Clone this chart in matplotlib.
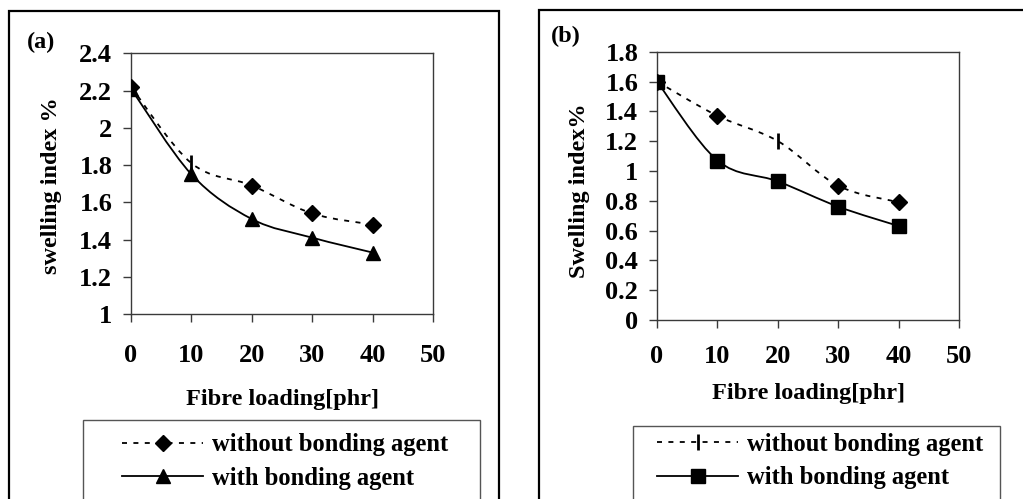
import numpy as np
import matplotlib
matplotlib.use("Agg")
import matplotlib.pyplot as plt
from matplotlib.path import Path
from matplotlib.patches import PathPatch, Rectangle
from matplotlib.lines import Line2D
from matplotlib.ticker import FuncFormatter, MultipleLocator

# ---- data -------------------------------------------------------------
fibre_loading = [0, 10, 20, 30, 40]

a_without = [2.22, 1.81, 1.69, 1.54, 1.48]
a_with = [2.21, 1.75, 1.51, 1.41, 1.33]

b_without = [1.60, 1.37, 1.20, 0.90, 0.79]
b_with = [1.60, 1.07, 0.93, 0.76, 0.63]

series_labels = ["without bonding agent", "with bonding agent"]
x_label = "Fibre loading[phr]"
a_ylabel = "swelling index %"
b_ylabel = "Swelling index%"

# marker drawn at each point of the dashed series
a_without_markers = ["D", "|", "D", "D", "D"]
b_without_markers = ["D", "D", "|", "D", "D"]

# ---- style ------------------------------------------------------------
plt.rcParams["font.family"] = ["Liberation Serif", "DejaVu Serif"]
plt.rcParams["font.weight"] = "bold"
plt.rcParams["lines.scale_dashes"] = False

W, H = 1023, 499
fig = plt.figure(figsize=(W / 100, H / 100), dpi=100)

def fx(x):
    return x / W

def fy(y):
    return 1 - y / H

DASH = (0, (3.6, 4.6))
LW = 1.3
SPINE = "#3a3a3a"

def smooth_path(x, y):
    pts = np.column_stack([x, y]).astype(float)
    n = len(pts)
    verts = [pts[0]]
    codes = [Path.MOVETO]
    for i in range(n - 1):
        p0 = pts[i - 1] if i > 0 else pts[i]
        p1 = pts[i]
        p2 = pts[i + 1]
        p3 = pts[i + 2] if i + 2 < n else pts[i + 1]
        verts += [p1 + (p2 - p0) / 6, p2 - (p3 - p1) / 6, p2]
        codes += [Path.CURVE4] * 3
    return Path(verts, codes)

def fmt(v, _):
    return f"{v:g}"

def panel(rect_px, ylim, ystep, without, with_, wo_markers, with_marker,
          ylabel, ylabel_xy, xlabel_y, xtick_pad):
    l, t, r, b = rect_px
    ax = fig.add_axes([fx(l), fy(b), (r - l) / W, (b - t) / H])
    ax.set_xlim(0, 50)
    ax.set_ylim(*ylim)
    ax.xaxis.set_major_locator(MultipleLocator(10))
    ax.yaxis.set_major_locator(MultipleLocator(ystep))
    ax.xaxis.set_major_formatter(FuncFormatter(fmt))
    ax.yaxis.set_major_formatter(FuncFormatter(fmt))
    for s in ax.spines.values():
        s.set_color(SPINE)
        s.set_linewidth(1.0)
    ax.tick_params(axis="both", direction="out", length=5.5, width=1.0,
                   color=SPINE, labelsize=19)
    ax.tick_params(axis="y", pad=8)
    ax.tick_params(axis="x", pad=xtick_pad)

    # dashed series
    ax.add_patch(PathPatch(smooth_path(fibre_loading, without), fill=False,
                           edgecolor="black", lw=LW, linestyle=DASH, zorder=2))
    for xv, yv, m in zip(fibre_loading, without, wo_markers):
        if m == "|":
            ax.plot([xv], [yv], marker="|", ms=12, mew=2.0, color="black",
                    zorder=3)
        else:
            ax.plot([xv], [yv], marker="D", ms=8.5, color="black", zorder=3)

    # solid series
    ax.add_patch(PathPatch(smooth_path(fibre_loading, with_), fill=False,
                           edgecolor="black", lw=LW, zorder=4))
    ax.plot(fibre_loading, with_, linestyle="none", marker=with_marker,
            ms=10.5 if with_marker == "^" else 9.5, color="black", zorder=5)

    ax.set_ylabel(ylabel, fontsize=17.5, fontweight="bold")
    ax.yaxis.label.set_va("center")
    ax.yaxis.set_label_coords((ylabel_xy[0] - l) / (r - l),
                              (b - ylabel_xy[1]) / (b - t))
    ax.set_xlabel(x_label, fontsize=17.5, fontweight="bold")
    ax.xaxis.label.set_va("center")
    ax.xaxis.set_label_coords(0.5, (b - xlabel_y) / (b - t))
    return ax

def frame(l, t, r, b, lw=1.6, color="black"):
    fig.patches.append(Rectangle((fx(l), fy(b)), (r - l) / W, (b - t) / H,
                                 transform=fig.transFigure, fill=False,
                                 edgecolor=color, lw=lw, clip_on=False))

def legend(handles, left_px, center_px):
    fig.legend(handles=handles, labels=series_labels, loc="center left",
               bbox_to_anchor=(fx(left_px), fy(center_px)), frameon=False,
               borderpad=0, borderaxespad=0, handlelength=3.3,
               handletextpad=0.35, labelspacing=0.42,
               prop={"family": "Liberation Serif", "weight": "bold",
                     "size": 17.7})

# ---- panel (a) ----------------------------------------------------------
frame(9, 11, 499, 520)
panel((131, 53.3, 433, 314), (1, 2.4), 0.2, a_without, a_with,
      a_without_markers, "^", a_ylabel, (52, 186), 400, 16)
fig.text(fx(27), fy(42), "(a)", fontsize=17.5, fontweight="bold",
         ha="left", va="center")
frame(83, 420, 480, 520, lw=1.0, color="#555555")
legend([Line2D([], [], color="black", lw=LW, linestyle=DASH, marker="D",
               ms=8.5),
        Line2D([], [], color="black", lw=LW, marker="^", ms=10.5)],
       122, 461.5)

# ---- panel (b) ----------------------------------------------------------
frame(539, 10, 1040, 520)
panel((657, 51.7, 959.3, 320), (0, 1.8), 0.2, b_without, b_with,
      b_without_markers, "s", b_ylabel, (579, 191), 393, 12.5)
fig.text(fx(551), fy(36), "(b)", fontsize=17.5, fontweight="bold",
         ha="left", va="center")
frame(633, 426, 1000, 520, lw=1.0, color="#555555")
legend([Line2D([], [], color="black", lw=LW, linestyle=DASH, marker="|",
               ms=12, mew=2.0),
        Line2D([], [], color="black", lw=LW, marker="s", ms=9.5)],
       657, 461)

fig.savefig("out.png", dpi=100)
